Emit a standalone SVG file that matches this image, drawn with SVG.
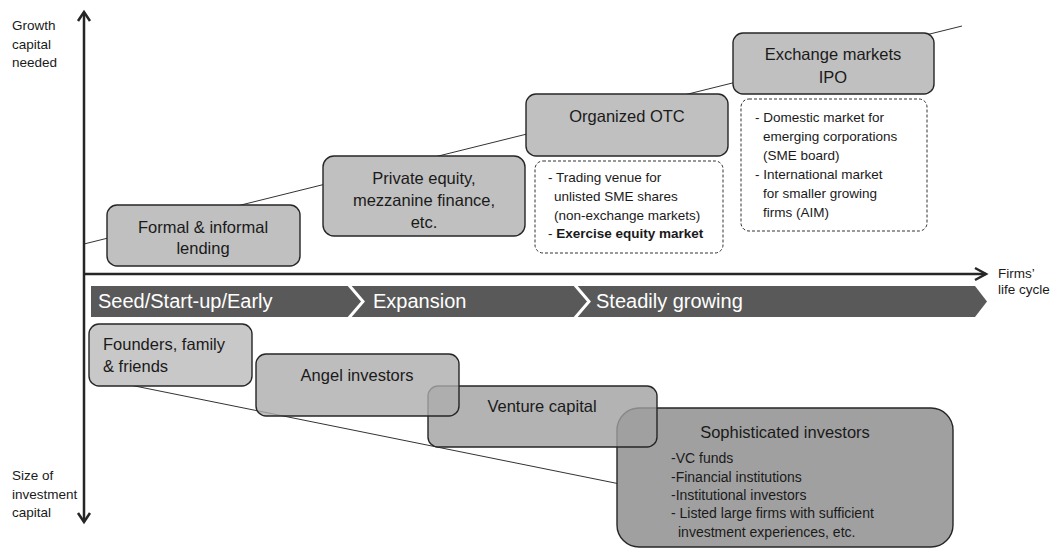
<svg xmlns="http://www.w3.org/2000/svg" width="1055" height="548" viewBox="0 0 1055 548">
<style>
text{font-family:"Liberation Sans",Arial,sans-serif;fill:#1a1a1a}
.box{fill:#c0c0c0;stroke:#262626;stroke-width:1.4}
.dash{fill:#fff;stroke:#333;stroke-width:1;stroke-dasharray:3 2}
.lbl{font-size:16.5px;text-anchor:middle}
.small{font-size:13.5px}
.item{font-size:14px}
.axl{font-size:13.5px}
.axis{fill:none;stroke:#262626;stroke-width:2.5}
.trend{fill:none;stroke:#333;stroke-width:1}
.band{font-size:20px;fill:#fff}
.sep{fill:none;stroke:#fff;stroke-width:3}
.semi{stroke:#262626;stroke-width:1.4}
</style>
<rect width="1055" height="548" fill="#fff"/>
<g id="connectors">
<line class="trend" x1="84" y1="244" x2="962" y2="26"/>
<line class="trend" x1="110" y1="381" x2="620" y2="484"/>
</g>
<g id="axes">
<line class="axis" x1="84" y1="12" x2="84" y2="522"/>
<polyline class="axis" points="78,21 84,12 90,21"/>
<polyline class="axis" points="78,513 84,522 90,513"/>
<line class="axis" x1="84" y1="274" x2="986" y2="274"/>
<polyline class="axis" points="975,268 986,274 975,280"/>
<text class="axl" x="12" y="30">Growth</text>
<text class="axl" x="12" y="49">capital</text>
<text class="axl" x="12" y="67">needed</text>
<text class="axl" x="12" y="480">Size of</text>
<text class="axl" x="12" y="499">investment</text>
<text class="axl" x="12" y="517">capital</text>
<text class="axl" x="998" y="278">Firms’</text>
<text class="axl" x="998" y="294">life cycle</text>
</g>
<g id="lifecycle">
<polygon points="91,286 975,286 987,301.5 975,317 91,317" fill="#595959"/>
<polyline class="sep" points="348,284 363,301.5 348,319"/>
<polyline class="sep" points="574,284 589,301.5 574,319"/>
<text class="band" x="98" y="308">Seed/Start-up/Early</text>
<text class="band" x="373" y="308">Expansion</text>
<text class="band" x="596" y="308">Steadily growing</text>
</g>
<g id="formal-lending">
<rect class="box" x="107" y="205" width="193" height="61" rx="10"/>
<text class="lbl" x="203" y="233">Formal &amp; informal</text>
<text class="lbl" x="203" y="254">lending</text>
</g>
<g id="private-equity">
<rect class="box" x="323" y="156" width="202" height="80" rx="11"/>
<text class="lbl" x="424" y="184">Private equity,</text>
<text class="lbl" x="424" y="206">mezzanine finance,</text>
<text class="lbl" x="424" y="228">etc.</text>
</g>
<g id="organized-otc">
<rect class="box" x="526" y="94" width="202" height="62" rx="10"/>
<text class="lbl" x="627" y="122">Organized OTC</text>
</g>
<g id="otc-notes">
<rect class="dash" x="535" y="161" width="188" height="92" rx="8"/>
<text class="small" x="548" y="182">- Trading venue for</text>
<text class="small" x="554" y="201">unlisted SME shares</text>
<text class="small" x="554" y="220">(non-exchange markets)</text>
<text class="small" x="548" y="238">- <tspan font-weight="bold">Exercise equity market</tspan></text>
</g>
<g id="exchange-ipo">
<rect class="box" x="733" y="33" width="201" height="61" rx="10"/>
<text class="lbl" x="833" y="60">Exchange markets</text>
<text class="lbl" x="833" y="83">IPO</text>
</g>
<g id="ipo-notes">
<rect class="dash" x="741" y="99" width="186" height="132" rx="8"/>
<text class="small" x="755" y="122">- Domestic market for</text>
<text class="small" x="763" y="141">emerging corporations</text>
<text class="small" x="763" y="160">(SME board)</text>
<text class="small" x="755" y="179">- International market</text>
<text class="small" x="763" y="198">for smaller growing</text>
<text class="small" x="763" y="217">firms (AIM)</text>
</g>
<g id="sophisticated-investors">
<rect class="box" x="617" y="408" width="336" height="139" rx="22" style="fill:#a0a0a0"/>
<text class="lbl" x="785" y="438">Sophisticated investors</text>
<text class="item" x="671" y="463">-VC funds</text>
<text class="item" x="671" y="482">-Financial institutions</text>
<text class="item" x="671" y="500">-Institutional investors</text>
<text class="item" x="671" y="518">- Listed large firms with sufficient</text>
<text class="item" x="678" y="537">investment experiences, etc.</text>
</g>
<g id="venture-capital">
<rect class="semi" x="428" y="386" width="229" height="61" rx="10" fill="#a0a0a0" fill-opacity="0.8"/>
<text class="lbl" x="542" y="412">Venture capital</text>
</g>
<g id="angel-investors">
<rect class="semi" x="256" y="354" width="203" height="62" rx="10" fill="#acacac" fill-opacity="0.8"/>
<text class="lbl" x="357" y="381">Angel investors</text>
</g>
<g id="founders">
<rect class="box" x="89" y="324" width="163" height="62" rx="10" style="fill:#c8c8c8"/>
<text class="lbl" x="103" y="350" style="text-anchor:start">Founders, family</text>
<text class="lbl" x="103" y="372" style="text-anchor:start">&amp; friends</text>
</g>
</svg>
